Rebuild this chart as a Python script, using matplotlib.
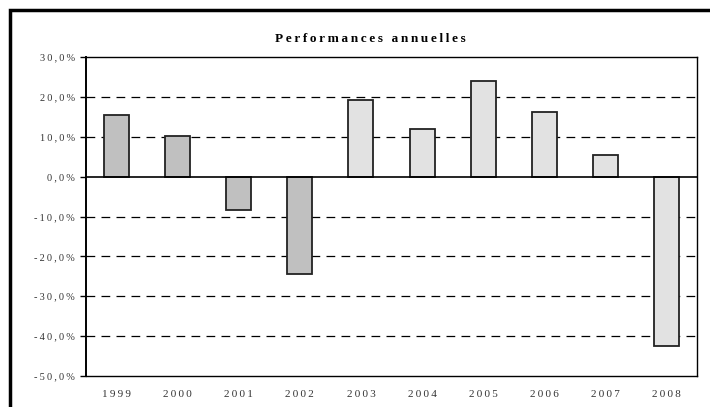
import matplotlib.pyplot as plt
from matplotlib.patches import Rectangle

years = ['1999', '2000', '2001', '2002', '2003', '2004', '2005', '2006', '2007', '2008']
perf = [15.5, 10.1, -8.3, -24.5, 19.2, 11.9, 24.1, 16.2, 5.4, -42.4]
colors = ['#c0c0c0'] * 4 + ['#e2e2e2'] * 6
yticks = [30, 20, 10, 0, -10, -20, -30, -40, -50]

SP = '\u2009'
FAM = ['Liberation Serif', 'DejaVu Serif']


def spaced(s, sep=SP):
    return sep.join(s)


fig = plt.figure(figsize=(7.1, 4.07), dpi=100)
ax = fig.add_axes([86 / 710, 1 - 376 / 407, 611 / 710, 319 / 407])

x = range(len(years))
ax.bar(x, perf, width=0.41, color=colors, edgecolor='#222222', linewidth=1.3, zorder=3)

ax.set_xlim(-0.5, len(years) - 0.5)
ax.set_ylim(-50, 30)
ax.set_yticks(yticks)
ax.set_yticklabels([spaced(f'{v:.1f}'.replace('.', ',') + '%') for v in yticks],
                   family=FAM, fontsize=7.5, color='#333333')
ax.set_xticks(list(x))
ax.set_xticklabels([spaced(y) for y in years], family=FAM, fontsize=8,
                   color='#333333')
ax.tick_params(axis='x', length=0, pad=10)
ax.tick_params(axis='y', length=4, width=1, pad=4)

# dashed grid lines, solid zero line
for v in [20, 10, -10, -20, -30, -40]:
    ax.axhline(v, color='black', linestyle=(0, (7, 5)), linewidth=0.9, zorder=1)
ax.axhline(0, color='black', linewidth=1.2, zorder=4)

for s in ['top', 'right', 'bottom']:
    ax.spines[s].set_linewidth(1)
ax.spines['left'].set_linewidth(1.4)

fig.text(370 / 710, 1 - 39 / 407, spaced('Performances annuelles'), family=FAM,
         fontsize=9.5, fontweight='bold', ha='center', va='center')

# outer chart frame (cut off at right and bottom)
fig.patches.append(Rectangle((10 / 710, -0.1), 1.2, 1 - 10 / 407 + 0.1,
                             transform=fig.transFigure, fill=False,
                             edgecolor='black', linewidth=2.5))

fig.savefig('out.png', dpi=100)
